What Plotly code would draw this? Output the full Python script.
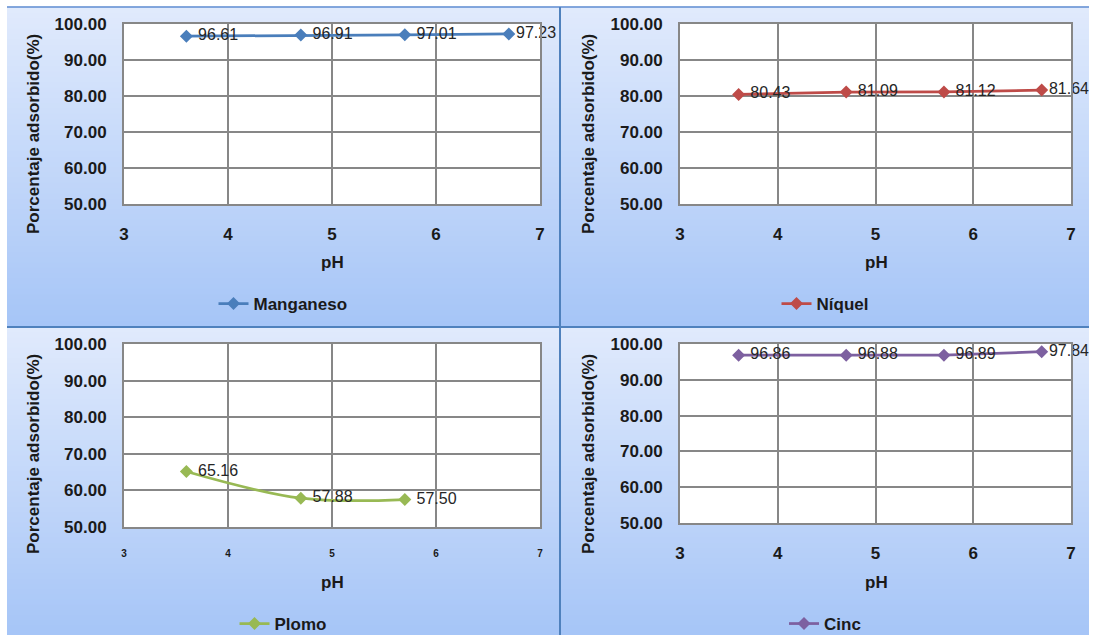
import plotly.graph_objects as go

# ---------------- data ----------------
ph = [3.6, 4.7, 5.7, 6.7]
ph_plomo = [3.6, 4.7, 5.7]
manganeso = [96.61, 96.91, 97.01, 97.23]
niquel = [80.43, 81.09, 81.12, 81.64]
plomo = [65.16, 57.88, 57.50]
cinc = [96.86, 96.88, 96.89, 97.84]
series_names = ["Manganeso", "Níquel", "Plomo", "Cinc"]
x_ticks = [3, 4, 5, 6, 7]
y_ticks = [50, 60, 70, 80, 90, 100]
y_title = "Porcentaje adsorbido(%)"
x_title = "pH"

# ---------------- styling ----------------
W, H = 1096, 635
FONT = "Liberation Sans, Arial, sans-serif"
colors = ["#4a7ebb", "#be4b48", "#98b954", "#7d60a0"]
grid_col = "#878787"
c_top = (224, 234, 252)
c_bot = (166, 197, 247)


def px(x):
    return min(max(x / W, 0), 1)


def py(y):
    return min(max(1 - y / H, 0), 1)


# panel layout in pixels: plot area (x0,x1,y0,y1), background (x0,x1,y0,y1)
panels = [
    dict(plot=(124, 540, 24, 204), bg=(7, 559.5, 8, 326.5), leg_x=283, leg_y=304,
         ytitle=(33, 134), xtitle=(332, 262), xtick_size=17, xticklen=14),
    dict(plot=(680, 1071, 24, 204), bg=(560.5, 1089, 8, 326.5), leg_x=825, leg_y=304,
         ytitle=(588, 134), xtitle=(876, 262), xtick_size=17, xticklen=14),
    dict(plot=(124, 540, 344, 527), bg=(7, 559.5, 327.5, 636), leg_x=283, leg_y=624,
         ytitle=(33, 454), xtitle=(332, 582), xtick_size=10, xticklen=16),
    dict(plot=(680, 1071, 344, 523), bg=(560.5, 1089, 327.5, 636), leg_x=825, leg_y=624,
         ytitle=(588, 454), xtitle=(876, 582), xtick_size=17, xticklen=14),
]

xs = [ph, ph, ph_plomo, ph]
ys = [manganeso, niquel, plomo, cinc]
shapes_line = ["linear", "linear", "spline", "linear"]

fig = go.Figure()
shapes = []
annotations = []

# gradient backgrounds
N = 60
for p in panels:
    bx0, bx1, by0, by1 = p["bg"]
    h = (by1 - by0) / N
    for i in range(N):
        t = (i + 0.5) / N
        c = tuple(round(c_top[k] + (c_bot[k] - c_top[k]) * t) for k in range(3))
        shapes.append(dict(type="rect", xref="paper", yref="paper",
                           x0=px(bx0), x1=px(bx1), y0=py(by0 + i * h - 0.5), y1=py(by0 + (i + 1) * h + 0.5),
                           fillcolor="rgb(%d,%d,%d)" % c, line=dict(width=0), layer="below"))

for i, p in enumerate(panels):
    n = i + 1
    xa = "xaxis" if n == 1 else "xaxis%d" % n
    ya = "yaxis" if n == 1 else "yaxis%d" % n
    xr = "x" if n == 1 else "x%d" % n
    yr = "y" if n == 1 else "y%d" % n
    lg = "legend" if n == 1 else "legend%d" % n
    x0, x1, y0, y1 = p["plot"]

    # white plot area
    shapes.append(dict(type="rect", xref=xr + " domain", yref=yr + " domain",
                       x0=0, x1=1, y0=0, y1=1, fillcolor="white", line=dict(width=0), layer="below"))

    # labels sit a little right of the markers; the last one (near the edge) hugs it
    tt = [" %{y:.2f}"] * len(ys[i])
    if len(ys[i]) == 4:
        tt[-1] = "%{y:.2f}"

    fig.add_trace(go.Scatter(
        x=xs[i], y=ys[i], name=series_names[i], xaxis=xr, yaxis=yr, legend=lg,
        mode="lines+markers+text", texttemplate=tt, textposition="middle right",
        textfont=dict(family=FONT, size=16, color="#262626"),
        line=dict(color=colors[i], width=2.75, shape=shapes_line[i]),
        marker=dict(symbol="diamond", size=10, color=colors[i]),
        cliponaxis=False, showlegend=True,
    ))

    axis_common = dict(showgrid=True, gridcolor=grid_col, gridwidth=1.5, showline=True,
                       mirror=True, linecolor=grid_col, linewidth=2, zeroline=False,
                       automargin=False,
                       ticks="outside", tickcolor="rgba(0,0,0,0)", fixedrange=True)
    fig.update_layout(**{
        xa: dict(domain=[px(x0), px(x1)], range=[3, 7], tickvals=x_ticks, anchor=yr,
                 ticklen=p["xticklen"],
                 tickfont=dict(family=FONT, size=p["xtick_size"], color="#1a1a1a", weight="bold"),
                 **axis_common),
        ya: dict(domain=[py(y1), py(y0)], range=[50, 100], tickvals=y_ticks, tickformat=".2f",
                 anchor=xr, ticklen=12,
                 tickfont=dict(family=FONT, size=17, color="#1a1a1a", weight="bold"),
                 **axis_common),
        lg: dict(x=px(p["leg_x"]), y=py(p["leg_y"]), xref="paper", yref="paper",
                 xanchor="center", yanchor="middle", orientation="h",
                 bgcolor="rgba(0,0,0,0)", borderwidth=0,
                 font=dict(family=FONT, size=17, color="#1a1a1a", weight="bold")),
    })

    annotations.append(dict(text=y_title, xref="paper", yref="paper",
                            x=px(p["ytitle"][0]), y=py(p["ytitle"][1]), textangle=-90,
                            showarrow=False, xanchor="center", yanchor="middle",
                            font=dict(family=FONT, size=17, color="#1a1a1a", weight="bold")))
    annotations.append(dict(text=x_title, xref="paper", yref="paper",
                            x=px(p["xtitle"][0]), y=py(p["xtitle"][1]),
                            showarrow=False, xanchor="center", yanchor="middle",
                            font=dict(family=FONT, size=17, color="#1a1a1a", weight="bold")))

# divider / border lines
line_col = "#4f81bd"
shapes.append(dict(type="line", xref="paper", yref="paper", x0=px(7), x1=px(1089), y0=py(7), y1=py(7),
                   line=dict(color="#5b8ad0", width=1.5), layer="below"))
shapes.append(dict(type="line", xref="paper", yref="paper", x0=px(7), x1=px(1089), y0=py(327), y1=py(327),
                   line=dict(color=line_col, width=2), layer="below"))
shapes.append(dict(type="line", xref="paper", yref="paper", x0=px(560), x1=px(560), y0=py(7), y1=0,
                   line=dict(color=line_col, width=2), layer="below"))

fig.update_layout(
    width=W, height=H, margin=dict(l=0, r=0, t=0, b=0, autoexpand=False),
    paper_bgcolor="white", plot_bgcolor="white",
    shapes=shapes, annotations=annotations,
    font=dict(family=FONT),
)

fig.write_html(
    "out.html",
    config={"displayModeBar": False},
    post_script=(
        "document.documentElement.style.margin='0';"
        "document.documentElement.style.overflow='hidden';"
        "document.body.style.margin='0';document.body.style.padding='0';"
        "document.body.style.overflow='hidden';"
        "var gd=document.getElementById('{plot_id}');"
        "gd.style.position='fixed';gd.style.left='0px';gd.style.top='0px';"
    ),
)
